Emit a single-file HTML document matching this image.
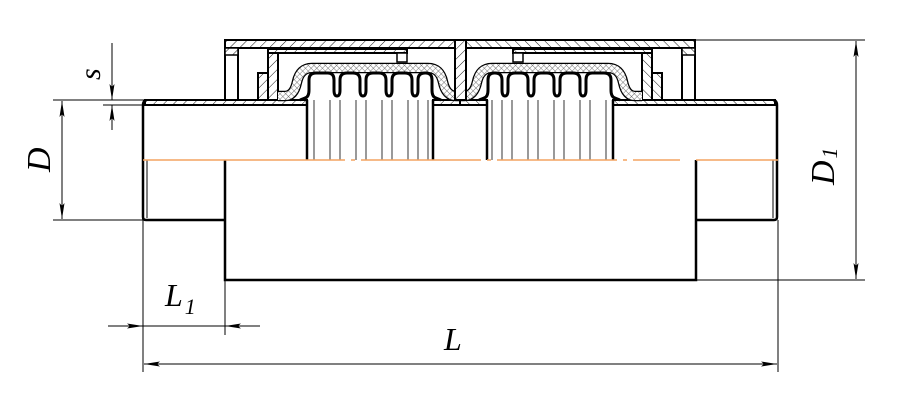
<!DOCTYPE html>
<html><head><meta charset="utf-8"><style>
html,body{margin:0;padding:0;background:#fff;width:905px;height:402px;overflow:hidden}
svg{display:block}
text{font-family:"Liberation Serif",serif;font-style:italic;fill:#000}
</style></head><body>
<svg width="905" height="402" viewBox="0 0 905 402" xmlns="http://www.w3.org/2000/svg">
<defs>
<pattern id="h" width="7" height="7" patternUnits="userSpaceOnUse" patternTransform="rotate(45)">
<rect width="7" height="7" fill="#fff"/><line x1="0" y1="0" x2="0" y2="7" stroke="#000" stroke-width="0.9"/></pattern>
<pattern id="x" width="4" height="4" patternUnits="userSpaceOnUse" patternTransform="rotate(45)">
<rect width="4" height="4" fill="#fff"/><line x1="0" y1="0" x2="0" y2="4" stroke="#555" stroke-width="0.8"/><line x1="0" y1="0" x2="4" y2="0" stroke="#555" stroke-width="0.8"/></pattern>
<marker id="a" viewBox="0 0 16 6" refX="16" refY="3" markerWidth="16" markerHeight="6" markerUnits="userSpaceOnUse" orient="auto-start-reverse"><path d="M0,0.5 L16,3 L0,5.5 L3,3 z" fill="#000"/></marker>
<g id="half">
 <rect x="145" y="100" width="162" height="5" fill="url(#h)" stroke="#000" stroke-width="2"/>
 <rect x="433" y="100" width="27" height="5" fill="url(#h)" stroke="#000" stroke-width="2"/>
 <path d="M146,100 Q143,101 143,105 L143,217 Q143,220 146,220 L225,220" fill="none" stroke="#000" stroke-width="2.5"/>
 <line x1="147" y1="160" x2="147" y2="218" stroke="#000" stroke-width="1"/>
 <line x1="143" y1="105" x2="146" y2="105" stroke="#000" stroke-width="2"/>
 <line x1="307" y1="100" x2="307" y2="160" stroke="#000" stroke-width="2.5"/>
 <line x1="433" y1="100" x2="433" y2="160" stroke="#000" stroke-width="2.5"/>
 <g stroke="#000" stroke-width="0.8">
  <line x1="314" y1="100" x2="314" y2="160"/><line x1="330" y1="100" x2="330" y2="160"/>
  <line x1="340" y1="100" x2="340" y2="160"/><line x1="356" y1="100" x2="356" y2="160"/>
  <line x1="366" y1="100" x2="366" y2="160"/><line x1="382" y1="100" x2="382" y2="160"/>
  <line x1="392" y1="100" x2="392" y2="160"/><line x1="408" y1="100" x2="408" y2="160"/>
  <line x1="418" y1="100" x2="418" y2="160"/><line x1="428" y1="100" x2="428" y2="160"/>
 </g>
 <rect x="225" y="40" width="235" height="8" fill="url(#h)" stroke="#000" stroke-width="2"/>
 <rect x="225" y="48" width="13" height="52" fill="#fff" stroke="#000" stroke-width="2"/>
 <rect x="225" y="48" width="13" height="7" fill="url(#h)" stroke="#000" stroke-width="1.5"/>
 <rect x="268" y="49" width="139" height="4" fill="url(#h)" stroke="#000" stroke-width="2"/>
 <rect x="397" y="53" width="10" height="9" fill="#fff" stroke="#000" stroke-width="1.5"/>
 <rect x="268" y="53" width="10" height="47" fill="url(#h)" stroke="#000" stroke-width="2"/>
 <rect x="258" y="73" width="10" height="27" fill="url(#h)" stroke="#000" stroke-width="2"/>
 <path d="M278,96 L285,96 Q294,96 297,82 Q300,68 312,68 L428,68 Q440,68 443,82 Q446,96 456,96 L460,96" fill="none" stroke="#000" stroke-width="10.5"/>
 <path d="M278,96 L285,96 Q294,96 297,82 Q300,68 312,68 L428,68 Q440,68 443,82 Q446,96 456,96 L460,96" fill="none" stroke="url(#x)" stroke-width="8"/>
 <path d="M300,100 L305,98 Q309,97 309,90 L309,80 Q309,73 316,73 L328,73 Q334,73 334,80 L334,90 Q334,96 337,96 Q340,96 340,90 L340,80 Q340,73 347,73 L353,73 Q360,73 360,80 L360,90 Q360,96 363,96 Q366,96 366,90 L366,80 Q366,73 373,73 L379,73 Q386,73 386,80 L386,90 Q386,96 389,96 Q392,96 392,90 L392,80 Q392,73 399,73 L405,73 Q412,73 412,80 L412,90 Q412,96 415,96 Q418,96 418,90 L418,80 Q418,73 425,73 L426,73 Q432,73 432,80 L432,90 Q432,97 436,98 L441,100" fill="none" stroke="#000" stroke-width="3"/>
</g>
</defs>
<use href="#half"/>
<use href="#half" transform="translate(920,0) scale(-1,1)"/>
<rect x="455" y="40" width="11" height="60" fill="url(#h)" stroke="#000" stroke-width="2"/>
<path d="M225,160 L225,280 L696,280 L696,160" fill="none" stroke="#000" stroke-width="2.5"/>
<path d="M143,160 L225,160 M225,160 L680,160" stroke="#f4a460" stroke-width="1.5" stroke-dasharray="120,6,4,6" fill="none"/>
<line x1="696" y1="160" x2="778" y2="160" stroke="#f4a460" stroke-width="1.5"/>
<g stroke="#000" stroke-width="1" fill="none">
 <line x1="53" y1="100" x2="145" y2="100"/><line x1="53" y1="220" x2="145" y2="220"/>
 <line x1="62" y1="101" x2="62" y2="219" marker-start="url(#a)" marker-end="url(#a)"/>
 <line x1="112" y1="43" x2="112" y2="100" marker-end="url(#a)"/>
 <line x1="112" y1="130" x2="112" y2="105" marker-end="url(#a)"/>
 <line x1="103" y1="105" x2="145" y2="105"/>
 <line x1="696" y1="40" x2="865" y2="40"/><line x1="696" y1="280" x2="865" y2="280"/>
 <line x1="856" y1="41" x2="856" y2="279" marker-start="url(#a)" marker-end="url(#a)"/>
 <line x1="143" y1="220" x2="143" y2="372"/><line x1="778" y1="220" x2="778" y2="372"/>
 <line x1="225" y1="280" x2="225" y2="335"/>
 <line x1="108" y1="326" x2="143" y2="326" marker-end="url(#a)"/>
 <line x1="260" y1="326" x2="225" y2="326" marker-end="url(#a)"/>
 <line x1="143" y1="326" x2="225" y2="326"/>
 <line x1="144" y1="364" x2="777" y2="364" marker-start="url(#a)" marker-end="url(#a)"/>
</g>
<text x="0" y="0" font-size="34" transform="translate(50,172) rotate(-90)">D</text>
<text x="0" y="0" font-size="30" transform="translate(100,80) rotate(-90)">s</text>
<text x="0" y="0" font-size="34" transform="translate(834,185) rotate(-90)">D<tspan font-size="22" dx="2" dy="3">1</tspan></text>
<text x="165" y="306" font-size="32">L<tspan font-size="22" dx="2" dy="8">1</tspan></text>
<text x="444" y="350" font-size="32">L</text>
</svg>
</body></html>
